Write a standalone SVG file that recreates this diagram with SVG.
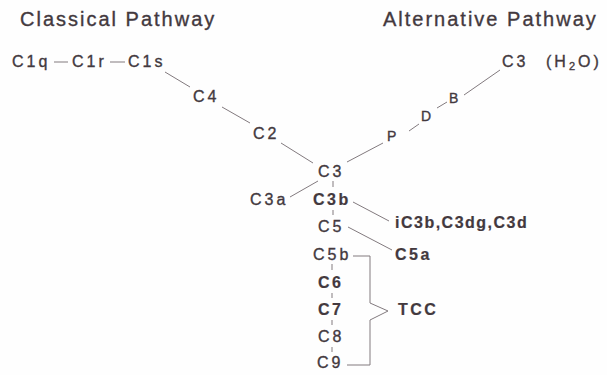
<svg xmlns="http://www.w3.org/2000/svg" width="607" height="375" viewBox="0 0 607 375">
  <style>
    text { font-family: "Liberation Sans", Arial, sans-serif; fill: #43393e; stroke: #43393e; stroke-width: 0.35px; }
    .title { font-size: 20px; letter-spacing: 2px; }
    .node { font-size: 16px; letter-spacing: 3px; }
    .bold { font-size: 16px; font-weight: bold; letter-spacing: 2.5px; stroke-width: 0.2px; }
    .small { font-size: 14px; letter-spacing: 1px; }
    .link { stroke: #827a7e; stroke-width: 1; fill: none; }
  </style>
  <rect width="607" height="375" fill="#fefefe"/>

  <text class="title" x="20" y="26">Classical Pathway</text>
  <text class="title" x="383" y="26">Alternative Pathway</text>

  <g id="connectors">
    <line class="link" x1="54" y1="62" x2="68" y2="62"/>
    <line class="link" x1="110" y1="62" x2="125" y2="62"/>
    <line class="link" x1="165" y1="72" x2="190" y2="87"/>
    <line class="link" x1="222" y1="107" x2="250" y2="123"/>
    <line class="link" x1="281" y1="143" x2="313" y2="163"/>
    <line class="link" x1="500" y1="70" x2="464" y2="95"/>
    <line class="link" x1="447" y1="102" x2="437" y2="108"/>
    <line class="link" x1="419" y1="124" x2="409" y2="131"/>
    <line class="link" x1="383" y1="143" x2="347" y2="162"/>
    <line class="link" x1="318" y1="181" x2="290" y2="197"/>
    <line class="link" x1="333" y1="181" x2="333" y2="187"/>
    <line class="link" x1="353" y1="202" x2="389" y2="221"/>
    <line class="link" x1="333" y1="210" x2="333" y2="215"/>
    <line class="link" x1="348" y1="227" x2="392" y2="250"/>
    <line class="link" x1="332" y1="264" x2="332" y2="270"/>
    <line class="link" x1="332" y1="293" x2="332" y2="298"/>
    <line class="link" x1="332" y1="320" x2="332" y2="325"/>
    <line class="link" x1="332" y1="347" x2="332" y2="352"/>
    <polyline class="link" points="353,256 370,256 370,303 388,311 370,320 370,365 347,365"/>
  </g>

  <g id="c1q"><text class="node" x="12" y="67">C1q</text></g>
  <g id="c1r"><text class="node" x="72" y="67">C1r</text></g>
  <g id="c1s"><text class="node" x="128" y="67">C1s</text></g>
  <g id="c4"><text class="node" x="193" y="102">C4</text></g>
  <g id="c2"><text class="node" x="253" y="139">C2</text></g>
  <g id="c3"><text class="node" x="318" y="177">C3</text></g>
  <g id="c3-h2o">
    <text class="node" x="502" y="67">C3</text>
    <text class="node" x="546" y="67">(H<tspan font-size="11" dy="3">2</tspan><tspan dy="-3">O)</tspan></text>
  </g>
  <g id="b"><text class="small" x="449" y="103">B</text></g>
  <g id="d"><text class="small" x="421" y="121">D</text></g>
  <g id="p"><text class="small" x="387" y="141">P</text></g>
  <g id="c3a"><text class="node" x="250" y="205">C3a</text></g>
  <g id="c3b"><text class="bold" x="313" y="205">C3b</text></g>
  <g id="ic3b"><text class="bold" x="395" y="228" style="letter-spacing:1.5px">iC3b,C3dg,C3d</text></g>
  <g id="c5"><text class="node" x="318" y="232">C5</text></g>
  <g id="c5a"><text class="bold" x="395" y="260">C5a</text></g>
  <g id="c5b"><text class="node" x="313" y="260">C5b</text></g>
  <g id="c6"><text class="bold" x="318" y="288">C6</text></g>
  <g id="c7"><text class="bold" x="318" y="315">C7</text></g>
  <g id="c8"><text class="node" x="318" y="342">C8</text></g>
  <g id="c9"><text class="node" x="317" y="368">C9</text></g>
  <g id="tcc"><text class="bold" x="398" y="315">TCC</text></g>
</svg>
